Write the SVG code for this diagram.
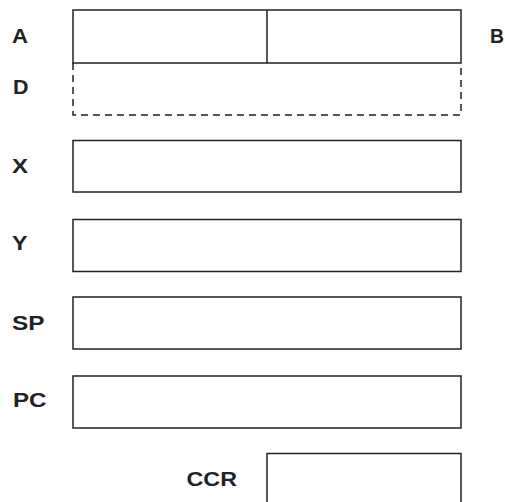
<svg xmlns="http://www.w3.org/2000/svg" width="505" height="502" viewBox="0 0 505 502">
<style>
.box{fill:none;stroke:#222;stroke-width:1.5}
.dash{fill:none;stroke:#222;stroke-width:1.5;stroke-dasharray:7 5}
.lbl{font-family:"Liberation Sans",Arial,sans-serif;font-weight:bold;font-size:20px;fill:#222}
</style>
<rect width="505" height="502" fill="#fff"/>
<g id="reg-AB">
<rect class="box" x="73" y="10" width="388" height="53"/>
<line class="box" x1="267" y1="10" x2="267" y2="63"/>
<text class="lbl" x="12" y="42.5" textLength="16" lengthAdjust="spacingAndGlyphs">A</text>
<text class="lbl" x="490" y="42.5" textLength="14" lengthAdjust="spacingAndGlyphs">B</text>
</g>
<g id="reg-D">
<path class="dash" d="M73,63 V115 H461 V63"/>
<text class="lbl" x="13" y="93.5" textLength="15.5" lengthAdjust="spacingAndGlyphs">D</text>
</g>
<g id="reg-X">
<rect class="box" x="73" y="140.5" width="388" height="51.5"/>
<text class="lbl" x="12" y="173" textLength="16" lengthAdjust="spacingAndGlyphs">X</text>
</g>
<g id="reg-Y">
<rect class="box" x="73" y="219.5" width="388" height="52"/>
<text class="lbl" x="12" y="250" textLength="15.5" lengthAdjust="spacingAndGlyphs">Y</text>
</g>
<g id="reg-SP">
<rect class="box" x="73" y="297" width="388" height="52"/>
<text class="lbl" x="12" y="330" textLength="32.5" lengthAdjust="spacingAndGlyphs">SP</text>
</g>
<g id="reg-PC">
<rect class="box" x="73" y="376" width="388" height="52"/>
<text class="lbl" x="13" y="406.5" textLength="33.5" lengthAdjust="spacingAndGlyphs">PC</text>
</g>
<g id="reg-CCR">
<rect class="box" x="267" y="453.5" width="194" height="60"/>
<text class="lbl" x="186.5" y="486" textLength="50.5" lengthAdjust="spacingAndGlyphs">CCR</text>
</g>
<g id="connectors"/>
</svg>
